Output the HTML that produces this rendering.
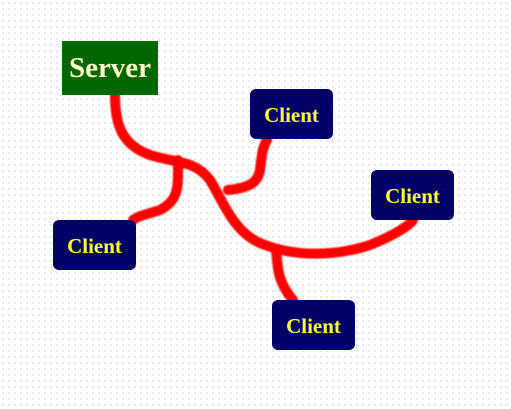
<!DOCTYPE html>
<html><head><style>
html,body{margin:0;padding:0;}
body{width:511px;height:409px;position:relative;overflow:hidden;background-color:#fff;
background-image:radial-gradient(circle,#cfcfcf 0.6px,transparent 0.9px);background-size:6px 6px;
font-family:"Liberation Serif",serif;font-weight:bold;}
.b{position:absolute;display:flex;align-items:center;justify-content:center;}
.c{background:#000066;color:#ffff33;border-radius:6px;width:83px;height:50px;font-size:21px;padding-top:3px;box-sizing:border-box;}
svg{position:absolute;left:0;top:0;}
</style></head><body>
<svg width="511" height="409">
<defs><filter id="f"><feGaussianBlur stdDeviation="0.8"/></filter></defs>
<g fill="none" stroke="#ff0000" stroke-width="10" stroke-linecap="round" filter="url(#f)">
<path d="M115,95 C115,125 122,145 150,155 C175,163 195,160 210,180 C225,205 235,235 265,245 C300,258 340,255 370,245 C395,235 410,225 413,220"/>
<path d="M178,160 C178,185 180,200 160,210 C145,215 140,215 133,220"/>
<path d="M228,190 C250,188 258,182 260,170 C262,155 262,148 267,140"/>
<path d="M276,250 C278,265 276,280 293,300"/>
</g></svg>
<div class="b" style="left:62px;top:41px;width:96px;height:54px;background:#006600;color:#ffffcc;font-size:29px;">Server</div>
<div class="b c" style="left:250px;top:89px;">Client</div>
<div class="b c" style="left:53px;top:220px;">Client</div>
<div class="b c" style="left:371px;top:170px;">Client</div>
<div class="b c" style="left:272px;top:300px;">Client</div>
</body></html>
